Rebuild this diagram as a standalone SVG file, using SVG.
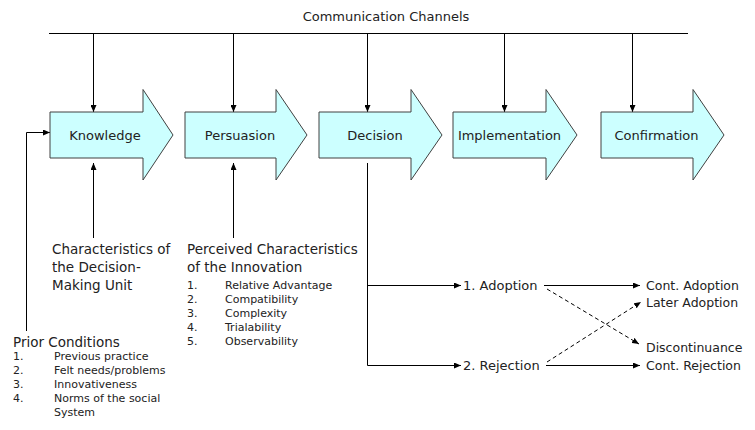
<svg xmlns="http://www.w3.org/2000/svg" width="755" height="430" viewBox="0 0 755 430">
<defs>
<marker id="ah" viewBox="0 0 7 6" refX="7" refY="3" markerWidth="7" markerHeight="6" markerUnits="userSpaceOnUse" orient="auto">
<path d="M0,0 L7,3 L0,6 Z" fill="#000"/>
</marker>
</defs>
<style>
text{font-family:"DejaVu Sans","Liberation Sans",sans-serif;fill:#222}
.stage{fill:#CCFFFF;stroke:#404040;stroke-width:1}
.lbl{font-size:13px;text-anchor:middle}
.big{font-size:13.5px}
.sm{font-size:11px}
.rt{font-size:12.5px}
.ln{fill:none;stroke:#000;stroke-width:1}
.arr{fill:none;stroke:#000;stroke-width:1;marker-end:url(#ah)}
.dash{fill:none;stroke:#000;stroke-width:1;stroke-dasharray:4,3;marker-end:url(#ah)}
</style>
<rect width="755" height="430" fill="#fff"/>

<g id="connectors">
<path class="ln" d="M49,33.5 H688"/>
<path class="arr" d="M93.5,33.5 V112"/>
<path class="arr" d="M233.5,33.5 V112"/>
<path class="arr" d="M367.5,33.5 V112"/>
<path class="arr" d="M504.5,33.5 V112"/>
<path class="arr" d="M632.5,33.5 V112"/>
<path class="arr" d="M93.5,238 V163"/>
<path class="arr" d="M233.5,238 V163"/>
<path class="arr" d="M26.5,331 V132.5 H50"/>
<path class="ln" d="M367.5,163 V365.5"/>
<path class="arr" d="M367.5,285.5 H461"/>
<path class="arr" d="M367.5,365.5 H461"/>
<path class="arr" d="M544,285.5 H640"/>
<path class="arr" d="M546,365.5 H640"/>
<path class="dash" d="M547,289 L639,344"/>
<path class="dash" d="M547,362 L641,302"/>
</g>

<g id="communication-channels">
<text x="386" y="21" style="font-size:13px;text-anchor:middle">Communication Channels</text>
</g>

<g id="knowledge">
<path class="stage" d="M50,112 H143 V89.5 L173,135 L143,180 V158 H50 Z"/>
<text class="lbl" x="105" y="140">Knowledge</text>
</g>
<g id="persuasion">
<path class="stage" d="M185,112 H276 V89.5 L307,135 L276,180 V158 H185 Z"/>
<text class="lbl" x="240" y="140">Persuasion</text>
</g>
<g id="decision">
<path class="stage" d="M319,112 H411 V89.5 L442,135 L411,180 V158 H319 Z"/>
<text class="lbl" x="375" y="140">Decision</text>
</g>
<g id="implementation">
<path class="stage" d="M453,112 H546 V89.5 L577,135 L546,180 V158 H453 Z"/>
<text class="lbl" x="509.5" y="140">Implementation</text>
</g>
<g id="confirmation">
<path class="stage" d="M601,112 H693 V89.5 L724,135 L693,180 V158 H601 Z"/>
<text class="lbl" x="656.5" y="140">Confirmation</text>
</g>

<g id="decision-making-unit">
<text class="big" x="52" y="254">Characteristics of</text>
<text class="big" x="52" y="272">the Decision-</text>
<text class="big" x="52" y="290">Making Unit</text>
</g>

<g id="perceived-characteristics">
<text class="big" x="187" y="254">Perceived Characteristics</text>
<text class="big" x="187" y="272">of the Innovation</text>
<text class="sm" x="187" y="289">1.</text><text class="sm" x="225" y="289">Relative Advantage</text>
<text class="sm" x="187" y="303">2.</text><text class="sm" x="225" y="303">Compatibility</text>
<text class="sm" x="187" y="317">3.</text><text class="sm" x="225" y="317">Complexity</text>
<text class="sm" x="187" y="331">4.</text><text class="sm" x="225" y="331">Trialability</text>
<text class="sm" x="187" y="345">5.</text><text class="sm" x="225" y="345">Observability</text>
</g>

<g id="prior-conditions">
<text class="big" x="13" y="347">Prior Conditions</text>
<text class="sm" x="13" y="360">1.</text><text class="sm" x="54" y="360">Previous practice</text>
<text class="sm" x="13" y="374">2.</text><text class="sm" x="54" y="374">Felt needs/problems</text>
<text class="sm" x="13" y="388">3.</text><text class="sm" x="54" y="388">Innovativeness</text>
<text class="sm" x="13" y="402">4.</text><text class="sm" x="54" y="402">Norms of the social</text>
<text class="sm" x="54" y="416">System</text>
</g>

<g id="adoption">
<text x="463" y="290" style="font-size:13px">1. Adoption</text>
</g>
<g id="rejection">
<text x="463" y="370" style="font-size:13px">2. Rejection</text>
</g>
<g id="cont-adoption"><text class="rt" x="646" y="290">Cont. Adoption</text></g>
<g id="later-adoption"><text class="rt" x="646" y="307">Later Adoption</text></g>
<g id="discontinuance"><text class="rt" x="646" y="352">Discontinuance</text></g>
<g id="cont-rejection"><text class="rt" x="646" y="370">Cont. Rejection</text></g>
</svg>
